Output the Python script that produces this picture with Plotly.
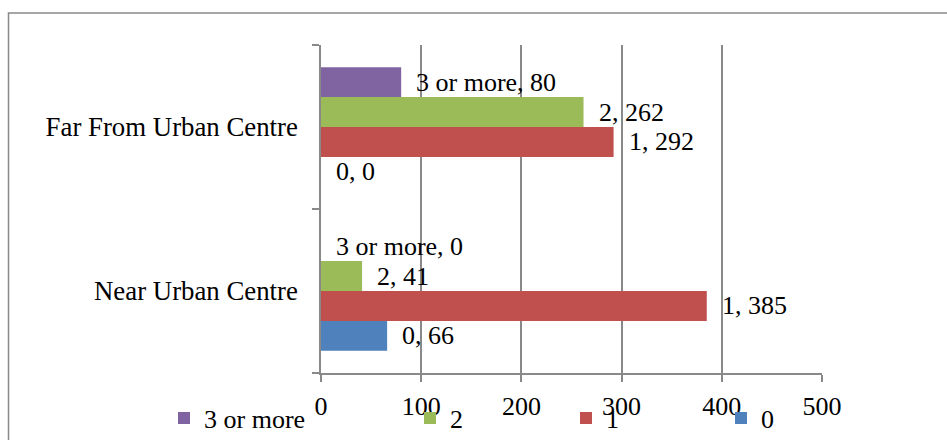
import plotly.graph_objects as go

# Household groups by distance from the urban centre
locations = ["Near Urban Centre", "Far From Urban Centre"]
series_names = ["0", "1", "2", "3 or more"]
values_0 = [66, 0]
values_1 = [385, 292]
values_2 = [41, 262]
values_3plus = [0, 80]
series_values = [values_0, values_1, values_2, values_3plus]
series_colors = ["#4F81BD", "#C0504D", "#9BBB59", "#8064A2"]
x_ticks = [0, 100, 200, 300, 400, 500]

FONT = "Liberation Serif, Times New Roman, serif"
FS = 26
FS_CAT = 26.8
GRID = "#898989"
BARGAP = 0.27

# one legend per series so the entries can be spread along the bottom
legend_ids = {"3 or more": "legend", "2": "legend2", "1": "legend3", "0": "legend4"}
legend_px = {"3 or more": 164, "2": 410, "1": 566, "0": 721}

fig = go.Figure()
for name, vals, col in zip(series_names, series_values, series_colors):
    fig.add_trace(go.Bar(
        name=name, y=locations, x=vals, orientation="h",
        marker=dict(color=col, line=dict(width=0)),
        legend=legend_ids[name], hoverinfo="skip",
    ))

# value labels "series, value" to the right of each bar
bar_w = (1 - BARGAP) / len(series_names)
annotations = []
for si, (name, vals) in enumerate(zip(series_names, series_values)):
    for ci, v in enumerate(vals):
        annotations.append(dict(
            x=v, y=ci + (si - (len(series_names) - 1) / 2) * bar_w,
            xref="x", yref="y", text=f"{name}, {v}", showarrow=False,
            xanchor="left", yanchor="middle", xshift=13,
            font=dict(family=FONT, size=FS, color="black"),
        ))

W, H = 947, 440
layout_legends = {}
for name, lid in legend_ids.items():
    layout_legends[lid] = dict(
        orientation="h", xref="container", yref="container",
        x=legend_px[name] / W, y=1 - 418 / H, xanchor="left", yanchor="middle",
        bgcolor="rgba(0,0,0,0)", font=dict(family=FONT, size=FS, color="black"),
        traceorder="normal",
    )

fig.update_layout(
    width=W, height=H,
    margin=dict(l=321, r=125, t=45, b=67, autoexpand=False),
    paper_bgcolor="white", plot_bgcolor="white",
    barmode="group", bargap=BARGAP, bargroupgap=0,
    font=dict(family=FONT, size=FS, color="black"),
    showlegend=True,
    annotations=annotations,
    xaxis=dict(
        range=[0, 500], tickvals=x_ticks, ticktext=[str(t) for t in x_ticks],
        showgrid=True, gridcolor=GRID, gridwidth=1.5,
        showline=True, linecolor=GRID, linewidth=1.5,
        ticks="outside", ticklen=7, tickcolor=GRID, tickwidth=1.5,
        ticklabelstandoff=2, zeroline=False, automargin=False,
        tickfont=dict(family=FONT, size=FS, color="black"),
    ),
    yaxis=dict(
        type="category", categoryorder="array", categoryarray=locations,
        range=[-0.5, 1.5], showgrid=False,
        showline=True, linecolor=GRID, linewidth=1.5,
        ticks="outside", ticklen=7, tickcolor=GRID, tickwidth=1.5,
        tickson="boundaries", ticklabelstandoff=16, automargin=False,
        tickfont=dict(family=FONT, size=FS_CAT, color="black"),
    ),
    shapes=[dict(
        type="rect", xref="paper", yref="paper",
        x0=(8.5 - 321) / 501, x1=(980 - 321) / 501,
        y0=(373 - 470) / 328, y1=(373 - 13) / 328,
        line=dict(color=GRID, width=1.5), fillcolor="rgba(0,0,0,0)", layer="below",
    )],
    **layout_legends,
)

fig.write_html("out.html")
